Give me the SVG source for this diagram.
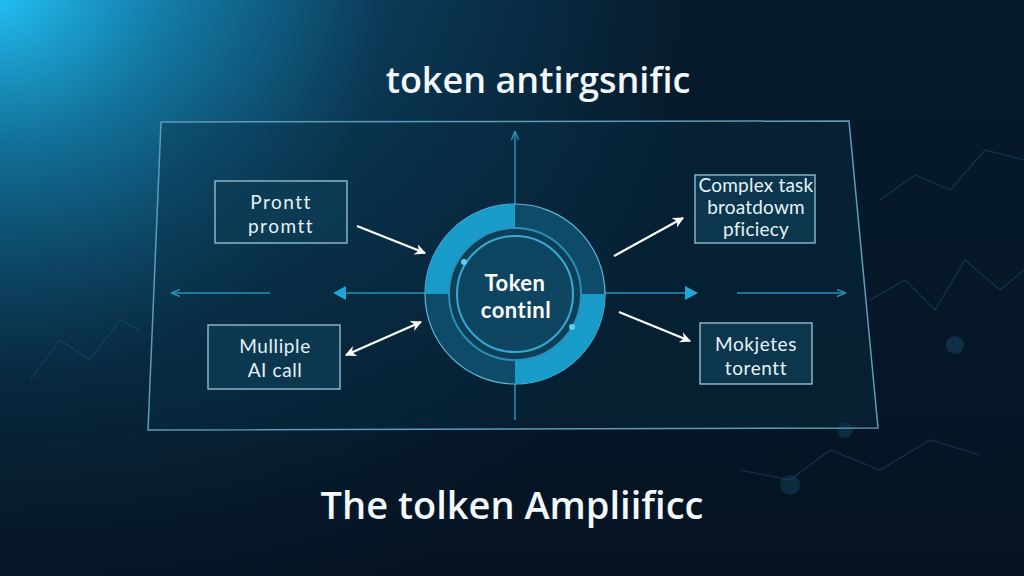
<svg xmlns="http://www.w3.org/2000/svg" width="1024" height="576" viewBox="0 0 1024 576">
<defs>
<radialGradient id="glow" cx="0" cy="0" r="700" gradientUnits="userSpaceOnUse">
<stop offset="0" stop-color="#22bdf0"/>
<stop offset="0.22" stop-color="#1480ad"/>
<stop offset="0.55" stop-color="#0b3a57"/>
<stop offset="1" stop-color="#061a2b"/>
</radialGradient>
<linearGradient id="fade" x1="0" y1="0" x2="0" y2="1">
<stop offset="0" stop-color="#061a2b" stop-opacity="0"/>
<stop offset="1" stop-color="#050f1c" stop-opacity="0.7"/>
</linearGradient>
<marker id="wa" viewBox="0 0 10 10" refX="9" refY="5" markerWidth="5" markerHeight="5" orient="auto-start-reverse">
<path d="M0,0 L10,5 L0,10 L3,5 z" fill="#ffffff"/>
</marker>
<marker id="ba" viewBox="0 0 10 10" refX="9" refY="5" markerWidth="6" markerHeight="6" orient="auto">
<path d="M0,1 L10,5 L0,9" fill="none" stroke="#2b8fb8" stroke-width="1.5"/>
</marker>
<style>
.box{fill:#0d3d56;fill-opacity:0.75;stroke:#9fc6d8;stroke-width:1.3}
.lbl{font-family:Lato,"Open Sans",sans-serif;font-size:19px;fill:#e6f2f8;text-anchor:middle}
.axis{stroke:#2b8fb8;stroke-width:1.5;fill:none}
.arr{stroke:#ffffff;stroke-width:2.2;fill:none}
.deco{stroke:#1c5574;stroke-width:1.2;fill:none;opacity:0.5}
</style>
</defs>
<rect width="1024" height="576" fill="#061a2b"/>
<rect width="1024" height="576" fill="url(#glow)"/>
<rect width="1024" height="576" fill="url(#fade)"/>
<g id="background-deco">
<polyline class="deco" points="880,200 915,175 950,190 985,150 1024,160"/>
<polyline class="deco" points="870,300 905,280 935,310 965,260 1000,290 1024,270"/>
<polyline class="deco" points="30,380 60,340 90,360 120,320 140,330"/>
<polyline class="deco" points="740,470 790,480 830,450 880,470 930,440 980,455"/>
<circle cx="955" cy="345" r="9" fill="#1c5574" opacity="0.4"/>
<circle cx="790" cy="485" r="10" fill="#1c5574" opacity="0.35"/>
<circle cx="845" cy="430" r="8" fill="#1c5574" opacity="0.35"/>
</g>
<g id="frame">
<polygon points="161,122 849,121 878,428 148,430" fill="#0a3148" fill-opacity="0.35" stroke="#5e9bb8" stroke-width="1.5"/>
</g>
<g id="connectors">
<line class="axis" x1="515" y1="420" x2="515" y2="132" marker-end="url(#ba)"/>
<line class="axis" x1="270" y1="293" x2="172" y2="293" marker-end="url(#ba)"/>
<line class="axis" x1="428" y1="293" x2="345" y2="293"/>
<polygon points="333,293 346,286 346,300" fill="#1ea6d6"/>
<line class="axis" x1="603" y1="293" x2="686" y2="293"/>
<polygon points="698,293 685,286 685,300" fill="#1ea6d6"/>
<line class="axis" x1="737" y1="293" x2="845" y2="293" marker-end="url(#ba)"/>
<line class="arr" x1="357" y1="226" x2="425" y2="253" marker-end="url(#wa)"/>
<line class="arr" x1="346" y1="355" x2="421" y2="322" marker-start="url(#wa)" marker-end="url(#wa)"/>
<line class="arr" x1="614" y1="256" x2="683" y2="218" marker-end="url(#wa)"/>
<line class="arr" x1="619" y1="312" x2="690" y2="341" marker-end="url(#wa)"/>
</g>
<g id="token-control">
<circle cx="515" cy="294" r="90" fill="#0e4b68" stroke="#5fb6d8" stroke-width="1.2"/>
<path d="M515,204 A90,90 0 0 0 425,294 L449,294 A66,66 0 0 1 515,228 Z" fill="#1a9ccb"/>
<path d="M515,384 A90,90 0 0 0 605,294 L581,294 A66,66 0 0 1 515,360 Z" fill="#1a9ccb"/>
<circle cx="515" cy="294" r="66" fill="#0c3f58" stroke="#2a8fb8" stroke-width="2"/>
<circle cx="515" cy="294" r="58" fill="#0e4561" stroke="#39a9d4" stroke-width="2"/>
<circle cx="464" cy="262" r="3" fill="#5fd0f4"/>
<circle cx="572" cy="327" r="3" fill="#5fd0f4"/>
<text x="515" y="291" font-family="Lato,'Open Sans',sans-serif" font-size="22" font-weight="700" fill="#ffffff" text-anchor="middle" letter-spacing="0.5">Token</text>
<text x="516" y="318" font-family="Lato,'Open Sans',sans-serif" font-size="22" font-weight="700" fill="#ffffff" text-anchor="middle" letter-spacing="0.5">continl</text>
</g>
<g id="node-prompt">
<rect class="box" x="215" y="181" width="132" height="62"/>
<text class="lbl" x="281" y="209" letter-spacing="1.5">Prontt</text>
<text class="lbl" x="281" y="233" letter-spacing="1.5">promtt</text>
</g>
<g id="node-multiple">
<rect class="box" x="208" y="325" width="132" height="64"/>
<text class="lbl" x="275" y="353" letter-spacing="0.6">Mulliple</text>
<text class="lbl" x="275" y="377" letter-spacing="0.6">AI call</text>
</g>
<g id="node-complex">
<rect class="box" x="695" y="175" width="120" height="68"/>
<text class="lbl" x="756" y="192" font-size="17" letter-spacing="0.2">Complex task</text>
<text class="lbl" x="756" y="214" font-size="17" letter-spacing="0.2">broatdowm</text>
<text class="lbl" x="756" y="236" font-size="17" letter-spacing="0.2">pficiecy</text>
</g>
<g id="node-mokjetes">
<rect class="box" x="700" y="323" width="112" height="61"/>
<text class="lbl" x="756" y="351" letter-spacing="0.6">Mokjetes</text>
<text class="lbl" x="756" y="375" letter-spacing="0.6">torentt</text>
</g>
<text x="538" y="93" font-family="'Open Sans','Noto Sans',sans-serif" font-size="36" font-weight="600" fill="#f2f8fb" text-anchor="middle">token antirgsnific</text>
<text x="512" y="519" font-family="'Open Sans','Noto Sans',sans-serif" font-size="38" font-weight="600" fill="#f2f8fb" text-anchor="middle">The tolken Ampliificc</text>
</svg>
